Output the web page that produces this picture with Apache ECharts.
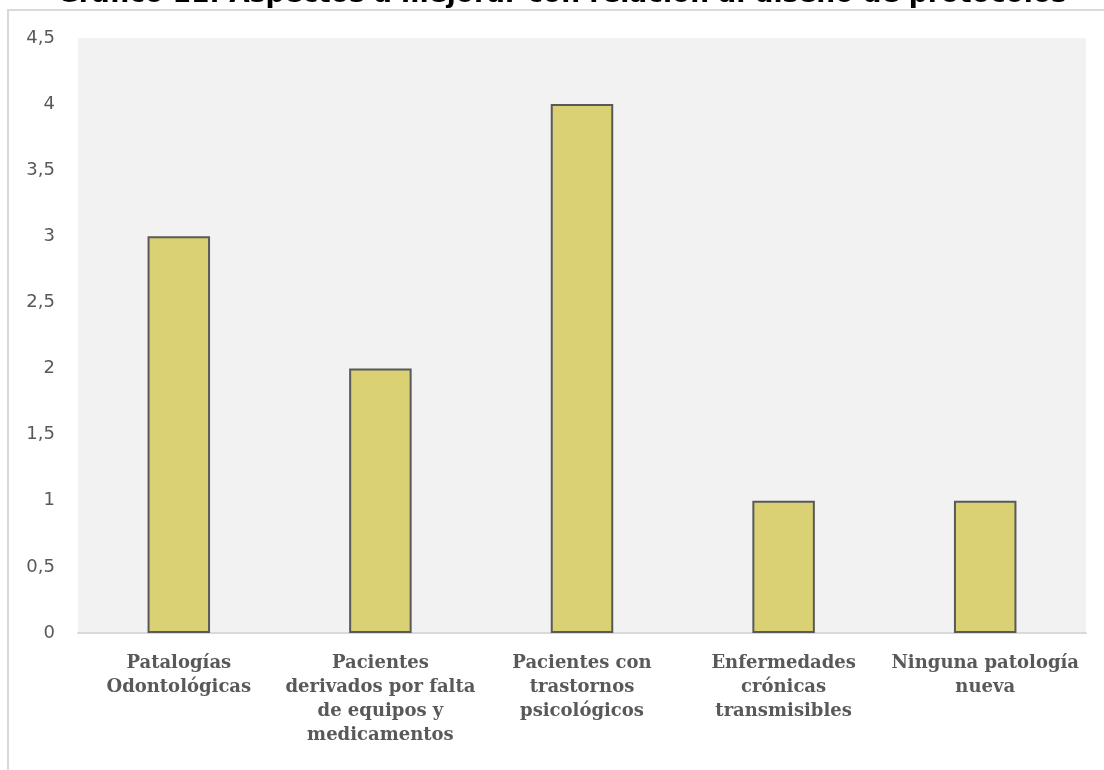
<!DOCTYPE html>
<html>
<head>
<meta charset="utf-8">
<script src="https://cdn.jsdelivr.net/npm/echarts@6/dist/echarts.min.js"></script>
<style>html,body{margin:0;padding:0;background:#fff;}#c{width:1104px;height:770px;}</style>
</head>
<body>
<div id="c"></div>
<script>
const titleText = 'Gráfico 11: Aspectos a mejorar con relación al diseño de protocolos';
const categories = [
  'Patalogías\nOdontológicas',
  'Pacientes\nderivados por falta\nde equipos y\nmedicamentos',
  'Pacientes con\ntrastornos\npsicológicos',
  'Enfermedades\ncrónicas\ntransmisibles',
  'Ninguna patología\nnueva'
];
const values = [3, 2, 4, 1, 1];
const yMin = 0, yMax = 4.5, yStep = 0.5;

const chart = echarts.init(document.getElementById('c'), null, {renderer: 'canvas'});
chart.setOption({
  backgroundColor: '#ffffff',
  animation: false,
  title: {
    text: titleText,
    left: 52,
    top: -23,
    textStyle: {fontFamily: 'DejaVu Sans', fontWeight: 'bold', fontSize: 26.5, color: '#000000'}
  },
  graphic: [
    {type: 'rect', z: -10, silent: true, shape: {x: 8, y: 10, width: 1200, height: 900},
     style: {fill: '#ffffff', stroke: '#d9d9d9', lineWidth: 2}},
  ],
  grid: {left: 78, right: 18, top: 38, bottom: 137, show: true, backgroundColor: '#f2f2f2', borderWidth: 0},
  xAxis: {
    type: 'category',
    data: categories,
    axisLine: {show: true, lineStyle: {color: '#d9d9d9', width: 2}},
    axisTick: {show: false},
    axisLabel: {
      interval: 0, margin: 18,
      fontFamily: 'DejaVu Serif', fontWeight: 'bold', fontSize: 18, lineHeight: 24,
      color: '#595959', align: 'center'
    }
  },
  yAxis: {
    type: 'value',
    min: yMin, max: yMax, interval: yStep,
    axisLine: {show: false},
    axisTick: {show: false},
    splitLine: {show: false},
    axisLabel: {
      margin: 23,
      fontFamily: 'DejaVu Sans', fontSize: 18, color: '#595959',
      formatter: v => String(v).replace('.', ',')
    }
  },
  series: [{
    type: 'bar',
    data: values,
    barWidth: '31%',
    itemStyle: {color: '#d9d174', borderColor: '#595959', borderWidth: 2}
  }]
});
</script>
</body>
</html>
